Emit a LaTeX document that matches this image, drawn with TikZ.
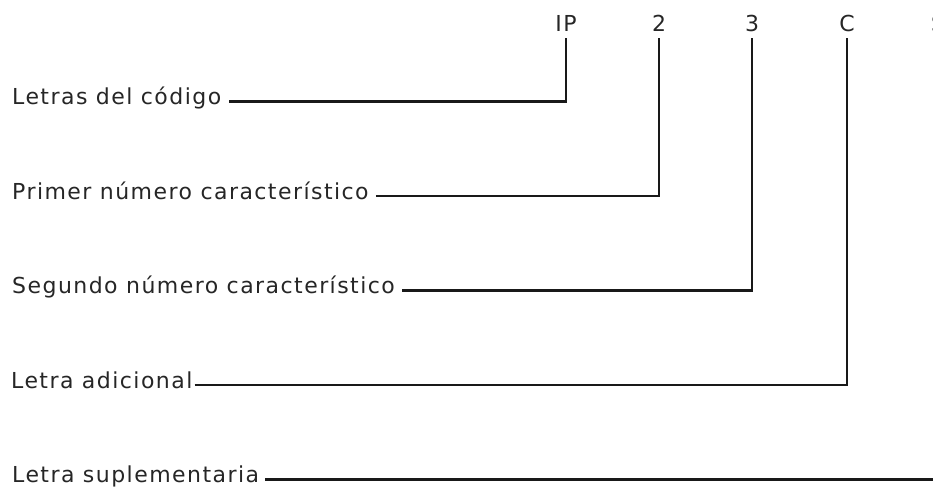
\documentclass[tikz,border=0pt]{standalone}
\usepackage{fontspec}
\setmainfont{DejaVu Sans}[LetterSpace=6.6]
\usetikzlibrary{positioning}

\begin{document}
\begin{tikzpicture}[x=1pt, y=-1pt,
    font=\fontsize{22}{26}\selectfont,
    etiqueta/.style={anchor=base west, inner sep=0pt, text=black!85},
    codigo/.style={anchor=base, inner sep=0pt, outer sep=6pt, text=black!85},
    linea/.style={line width=2.5pt, black!90}
  ]
    \useasboundingbox (0,0) rectangle (933,489);
    % letras y cifras del codigo
    \node[codigo] (ip)  at (566,32) {IP};
    \node[codigo] (n2)  at (659,32) {2};
    \node[codigo] (n3)  at (752,32) {3};
    \node[codigo] (c)   at (847,32) {C};
    \node[codigo] (s)   at (938,32) {S};

    % descripciones
    \node[etiqueta] (letras)  at (12,104.5) {Letras del código};
    \node[etiqueta] (primer)  at (12,199)   {Primer número característico};
    \node[etiqueta] (segundo) at (12,293.5) {Segundo número característico};
    \node[etiqueta] (adic)    at (11,388)   {Letra adicional};
    \node[etiqueta] (suple)   at (12,482.5) {Letra suplementaria};

    \draw[linea] ([xshift=8pt,yshift=3pt]letras.base east)  -| (ip.south);
    \draw[linea] ([xshift=7pt,yshift=3pt]primer.base east)  -| (n2.south);
    \draw[linea] ([xshift=7pt,yshift=3pt]segundo.base east) -| (n3.south);
    \draw[linea] ([xshift=2pt,yshift=3pt]adic.base east)    -| (c.south);
    \draw[linea] ([xshift=6pt,yshift=3pt]suple.base east)   -| (s.south);
  \end{tikzpicture}
\end{document}
